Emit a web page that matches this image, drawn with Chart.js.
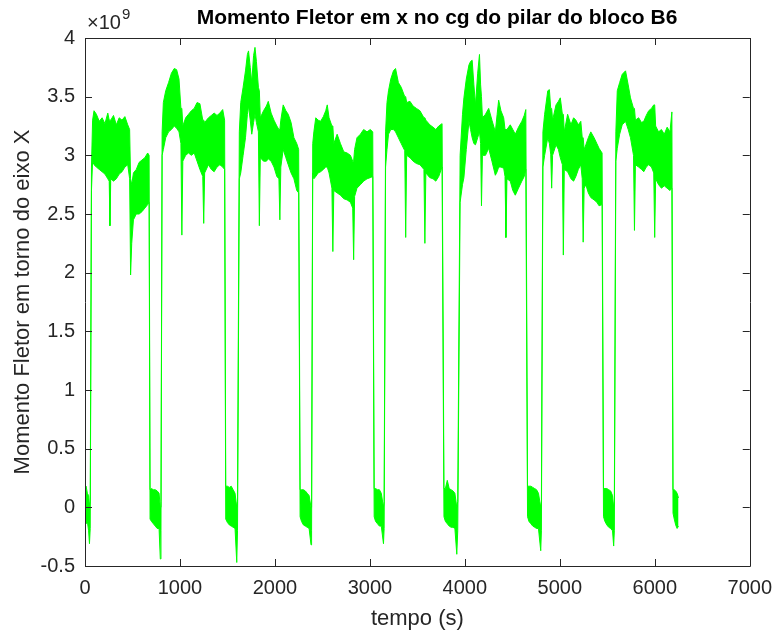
<!DOCTYPE html>
<html>
<head>
<meta charset="utf-8">
<script src="https://cdn.jsdelivr.net/npm/chart.js@4.4.1/dist/chart.umd.min.js"></script>
<style>
  body { margin: 0; background: #fff; }
  #wrap { width: 782px; height: 633px; }
</style>
</head>
<body>
<div id="wrap"><canvas id="momentChart"></canvas></div>
<script>
// time (s) and the upper / lower envelope of the noisy trace (units of 1e9)
const timeS = [
  0, 12, 25, 38, 47, 55,
  68, 80, 95, 120, 150, 180, 210, 240, 255, 263, 271, 300, 330, 360, 390, 420, 450, 470,
  480, 492, 510, 540, 570, 600, 630, 660, 675,
  685, 700, 720, 740, 760, 780, 793, 800,
  812, 825, 850, 880, 910, 940, 965, 990, 1010, 1020, 1030, 1060, 1090, 1120, 1150, 1180,
  1210, 1240, 1250, 1260, 1300, 1330, 1360, 1390, 1420, 1450, 1470,
  1482, 1500, 1520, 1540, 1560, 1580, 1598, 1606,
  1625, 1640, 1665, 1690, 1710, 1722, 1740, 1756, 1775, 1790, 1805, 1826, 1836, 1846,
  1880, 1910, 1930, 1960, 1990, 2020, 2042, 2052, 2062, 2087, 2115, 2140, 2170, 2200, 2230, 2250,
  2265, 2280, 2300, 2320, 2340, 2360, 2380, 2386,
  2398, 2410, 2430, 2455, 2481, 2510, 2535, 2551, 2570, 2600, 2610, 2620, 2655, 2690, 2725,
  2760, 2795, 2819, 2829, 2839, 2864, 2900, 2934, 2970, 3004, 3030,
  3045, 3060, 3080, 3100, 3120, 3143, 3150,
  3165, 3180, 3196, 3220, 3248, 3270, 3300, 3330, 3367, 3377, 3387, 3422, 3455, 3490, 3527,
  3569, 3579, 3589, 3631, 3665, 3694, 3725, 3760,
  3780, 3795, 3815, 3835, 3855, 3875, 3895, 3915, 3925,
  3950, 3975, 3990, 4015, 4043, 4060, 4077, 4095, 4112, 4135, 4154, 4166, 4175, 4185, 4217,
  4251, 4285, 4321, 4340, 4356, 4380, 4409, 4423, 4433, 4443, 4478, 4505, 4531, 4565, 4600, 4625, 4642,
  4660, 4675, 4695, 4715, 4735, 4755, 4775, 4799, 4806,
  4822, 4840, 4873, 4890, 4904, 4914, 4924, 4960, 4985, 5005, 5027, 5037, 5047, 5082, 5117,
  5145, 5169, 5195, 5221, 5236, 5246, 5256, 5274, 5300, 5326, 5361, 5390, 5413, 5445,
  5460, 5475, 5495, 5515, 5535, 5555, 5567, 5574,
  5590, 5605, 5630, 5657, 5692, 5720, 5744, 5776, 5786, 5796, 5830, 5860, 5884, 5910, 5936,
  5965, 5989, 5999, 6009, 6040, 6070, 6100, 6130, 6160, 6180,
  6192, 6205, 6220, 6235, 6250
];

const upper = [
  0.16, 0.18, 0.12, 0.10, 0.02, 0.05,
  2.90, 3.30, 3.38, 3.35, 3.29, 3.32, 3.27, 3.36, 3.30, 3.30, 3.30, 3.34, 3.26, 3.32, 3.30, 3.33, 3.26, 3.22,
  2.80, 2.75, 2.85, 2.88, 2.94, 2.96, 2.98, 3.02, 3.00,
  0.15, 0.16, 0.15, 0.15, 0.14, 0.12, 0.00, 0.05,
  3.20, 3.45, 3.55, 3.62, 3.70, 3.74, 3.73, 3.65, 3.40, 3.40, 3.25, 3.32, 3.35, 3.38, 3.40, 3.45,
  3.44, 3.30, 3.30, 3.28, 3.32, 3.34, 3.36, 3.34, 3.36, 3.39, 3.30,
  0.18, 0.18, 0.17, 0.18, 0.15, 0.12, 0.00, 0.05,
  3.20, 3.45, 3.58, 3.72, 3.86, 3.89, 3.75, 3.62, 3.85, 3.92, 3.80, 3.58, 3.55, 3.32,
  3.38, 3.42, 3.46, 3.36, 3.30, 3.25, 3.22, 3.22, 3.30, 3.43, 3.38, 3.35, 3.28, 3.15, 3.10, 3.05,
  0.15, 0.15, 0.15, 0.14, 0.12, 0.10, 0.00, 0.02,
  3.10, 3.20, 3.32, 3.30, 3.29, 3.33, 3.38, 3.43, 3.32, 3.25, 3.25, 3.10, 3.18, 3.10, 3.03,
  3.02, 3.00, 2.95, 2.95, 3.05, 3.15, 3.18, 3.22, 3.20, 3.22, 3.20,
  0.16, 0.16, 0.15, 0.15, 0.12, 0.00, 0.05,
  3.20, 3.45, 3.55, 3.65, 3.72, 3.74, 3.62, 3.58, 3.50, 3.50, 3.45, 3.46, 3.42, 3.40, 3.38,
  3.32, 3.32, 3.30, 3.26, 3.24, 3.22, 3.25, 3.27,
  0.16, 0.16, 0.23, 0.16, 0.15, 0.14, 0.12, 0.00, 0.05,
  3.00, 3.35, 3.49, 3.65, 3.77, 3.80, 3.81, 3.60, 3.43, 3.70, 3.86, 3.60, 3.50, 3.32, 3.35,
  3.40, 3.30, 3.20, 3.35, 3.47, 3.38, 3.32, 3.22, 3.22, 3.22, 3.26, 3.22, 3.18, 3.24, 3.29, 3.34, 3.39,
  0.18, 0.18, 0.18, 0.17, 0.16, 0.15, 0.12, 0.00, 0.05,
  3.20, 3.35, 3.55, 3.56, 3.40, 3.40, 3.30, 3.43, 3.46, 3.49, 3.35, 3.35, 3.20, 3.35, 3.26,
  3.32, 3.30, 3.26, 3.29, 3.15, 3.15, 3.05, 3.09, 3.15, 3.20, 3.15, 3.10, 3.06, 3.02,
  0.16, 0.16, 0.16, 0.15, 0.14, 0.10, 0.00, 0.05,
  3.20, 3.55, 3.62, 3.69, 3.72, 3.60, 3.49, 3.40, 3.40, 3.30, 3.32, 3.28, 3.29, 3.34, 3.38,
  3.40, 3.43, 3.43, 3.25, 3.20, 3.22, 3.18, 3.24, 3.20, 3.37,
  0.15, 0.15, 0.14, 0.12, 0.08
];

const lower = [
  -0.05, -0.14, -0.12, -0.20, -0.31, -0.18,
  2.70, 2.95, 2.92, 2.90, 2.88, 2.86, 2.84, 2.80, 2.78, 2.40, 2.80, 2.78, 2.80, 2.84, 2.86, 2.90, 2.92, 2.80,
  1.98, 2.25, 2.45, 2.50, 2.50, 2.52, 2.55, 2.58, 2.60,
  -0.10, -0.12, -0.14, -0.16, -0.18, -0.18, -0.44, -0.20,
  3.00, 3.05, 3.15, 3.20, 3.22, 3.25, 3.23, 3.20, 3.10, 2.32, 2.95, 3.00, 3.02, 3.00, 3.02, 2.95,
  2.88, 2.82, 2.42, 2.85, 2.92, 2.88, 2.86, 2.90, 2.92, 2.90, 2.88,
  -0.10, -0.13, -0.15, -0.16, -0.17, -0.18, -0.47, -0.20,
  2.80, 2.85, 3.00, 3.15, 3.35, 3.42, 3.30, 3.18, 3.28, 3.35, 3.28, 3.20, 2.40, 2.98,
  2.95, 2.95, 2.97, 2.95, 2.90, 2.82, 2.80, 2.45, 2.90, 3.05, 2.98, 2.92, 2.85, 2.80, 2.70, 2.68,
  -0.08, -0.12, -0.15, -0.16, -0.17, -0.18, -0.32, -0.20,
  2.85, 2.80, 2.82, 2.85, 2.86, 2.88, 2.90, 2.90, 2.85, 2.72, 2.18, 2.70, 2.68, 2.66, 2.63,
  2.62, 2.60, 2.55, 2.11, 2.65, 2.72, 2.75, 2.78, 2.80, 2.81, 2.82,
  -0.08, -0.12, -0.14, -0.16, -0.16, -0.31, -0.18,
  2.90, 3.05, 3.18, 3.22, 3.22, 3.20, 3.15, 3.10, 3.04, 2.30, 3.00, 2.98, 2.95, 2.93, 2.92,
  2.88, 2.25, 2.85, 2.81, 2.80, 2.78, 2.82, 2.90,
  -0.08, -0.12, -0.14, -0.16, -0.17, -0.17, -0.18, -0.40, -0.20,
  2.60, 2.75, 2.81, 3.05, 3.29, 3.22, 3.15, 3.10, 3.09, 3.15, 3.20, 3.10, 2.57, 3.00, 3.00,
  3.06, 2.95, 2.83, 2.86, 2.90, 2.90, 2.89, 2.82, 2.30, 2.80, 2.78, 2.70, 2.66, 2.72, 2.78, 2.82, 2.88,
  -0.08, -0.12, -0.14, -0.16, -0.17, -0.18, -0.18, -0.37, -0.20,
  2.90, 3.00, 3.15, 3.10, 3.01, 2.72, 3.00, 3.09, 3.05, 2.98, 2.92, 2.15, 2.88, 2.86, 2.80,
  2.78, 2.82, 2.88, 2.92, 2.80, 2.26, 2.72, 2.75, 2.68, 2.64, 2.62, 2.60, 2.57, 2.58,
  -0.08, -0.12, -0.15, -0.17, -0.18, -0.20, -0.33, -0.20,
  2.95, 3.06, 3.18, 3.26, 3.29, 3.22, 3.15, 3.00, 2.36, 2.92, 2.90, 2.88, 2.86, 2.90, 2.92,
  2.90, 2.85, 2.30, 2.80, 2.75, 2.72, 2.74, 2.72, 2.70, 2.72,
  -0.05, -0.10, -0.15, -0.18, -0.16
];

const xTickStep = 1000;
const yTickStep = 0.5;

const FONT = "'Liberation Sans', Arial, Helvetica, sans-serif";
const AXIS_COLOR = '#262626';
const GREEN = '#00ff00';

Chart.defaults.font.family = FONT;

// MATLAB style box with inward ticks, title and exponent label
const matlabFrame = {
    id: 'matlabFrame',
    afterDraw(chart) {
        const { ctx, chartArea: a, scales } = chart;
        const tick = 7;
        ctx.save();
        ctx.strokeStyle = AXIS_COLOR;
        ctx.lineWidth = 1;
        ctx.beginPath();
        ctx.rect(Math.round(a.left) + 0.5, Math.round(a.top) + 0.5,
                 Math.round(a.right - a.left), Math.round(a.bottom - a.top));
        scales.x.ticks.forEach(t => {
            const px = Math.round(scales.x.getPixelForValue(t.value)) + 0.5;
            ctx.moveTo(px, a.bottom); ctx.lineTo(px, a.bottom - tick);
            ctx.moveTo(px, a.top); ctx.lineTo(px, a.top + tick);
        });
        scales.y.ticks.forEach(t => {
            const py = Math.round(scales.y.getPixelForValue(t.value)) + 0.5;
            ctx.moveTo(a.left, py); ctx.lineTo(a.left + tick, py);
            ctx.moveTo(a.right, py); ctx.lineTo(a.right - tick, py);
        });
        ctx.stroke();

        // title
        ctx.fillStyle = '#000';
        ctx.textAlign = 'center';
        ctx.textBaseline = 'middle';
        ctx.font = 'bold 21px ' + FONT;
        ctx.fillText('Momento Fletor em x no cg do pilar do bloco B6', 437, 18);

        // exponent label
        ctx.fillStyle = AXIS_COLOR;
        ctx.textAlign = 'left';
        ctx.textBaseline = 'alphabetic';
        ctx.font = '20px ' + FONT;
        ctx.fillText('\u00d710', a.left + 2, 29);
        const w = ctx.measureText('\u00d710').width;
        ctx.font = '15px ' + FONT;
        ctx.fillText('9', a.left + 3 + w, 19);
        ctx.restore();
    }
};

const ctx = document.getElementById('momentChart').getContext('2d');
new Chart(ctx, {
    type: 'line',
    data: {
        datasets: [
            {
                data: timeS.map((t, i) => ({ x: t, y: lower[i] })),
                borderColor: GREEN,
                borderWidth: 1,
                pointRadius: 0,
                fill: false
            },
            {
                data: timeS.map((t, i) => ({ x: t, y: upper[i] })),
                borderColor: GREEN,
                backgroundColor: GREEN,
                borderWidth: 1,
                pointRadius: 0,
                fill: '-1'
            }
        ]
    },
    options: {
        animation: false,
        responsive: true,
        maintainAspectRatio: false,
        layout: { padding: { top: 38, right: 27, left: 0, bottom: 0 } },
        plugins: {
            legend: { display: false },
            tooltip: { enabled: false }
        },
        elements: { line: { tension: 0 } },
        scales: {
            x: {
                type: 'linear',
                min: 0,
                max: 7000,
                afterFit: s => { s.height = 67; },
                grid: { display: false, drawTicks: false },
                border: { display: false },
                ticks: {
                    stepSize: xTickStep,
                    maxRotation: 0,
                    padding: 10,
                    color: AXIS_COLOR,
                    font: { size: 20 },
                    callback: v => String(v)
                },
                title: {
                    display: true,
                    text: 'tempo (s)',
                    color: AXIS_COLOR,
                    font: { size: 22 },
                    padding: { top: 0, bottom: 1 }
                }
            },
            y: {
                min: -0.5,
                max: 4,
                afterFit: s => { s.width = 85; },
                grid: { display: false, drawTicks: false },
                border: { display: false },
                ticks: {
                    stepSize: yTickStep,
                    padding: 10,
                    color: AXIS_COLOR,
                    font: { size: 20 },
                    callback: v => String(Math.round(v * 10) / 10)
                },
                title: {
                    display: true,
                    text: 'Momento Fletor em torno do eixo X',
                    color: AXIS_COLOR,
                    font: { size: 22 },
                    padding: { top: 10, bottom: 0 }
                }
            }
        }
    },
    plugins: [matlabFrame]
});
</script>
</body>
</html>
